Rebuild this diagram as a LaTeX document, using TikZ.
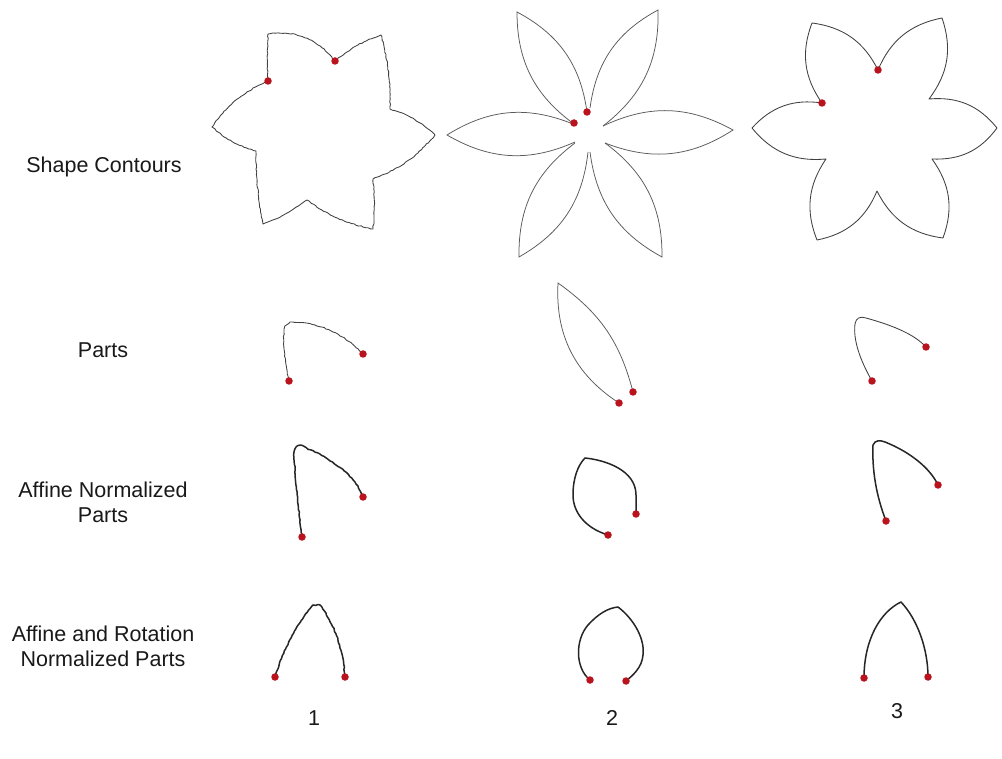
\documentclass[tikz,border=0pt]{standalone}
\usepackage{fontspec}
\setmainfont{Liberation Sans}
\usetikzlibrary{decorations.pathmorphing}
\definecolor{dotred}{RGB}{185,20,30}
\begin{document}
\begin{tikzpicture}[x=1pt,y=-1pt,
  lbl/.style={font=\fontsize{21.5}{25}\selectfont, align=center, inner sep=0pt, text=black!90},
  contour/.style={draw=black!75, line width=0.85pt, line join=round},
  petal/.style={draw=black!65, line width=0.75pt},
  jag/.style={decorate, decoration={random steps, segment length=2.5pt, amplitude=0.5pt}},
  part/.style={draw=black!85, line width=1.5pt, line join=round, line cap=round},
  dot/.style={circle, fill=dotred, inner sep=0pt, minimum size=7.5pt}]
\pgfmathsetseed{3}
\fill[white] (0,0) rectangle (1002,759);
\useasboundingbox (0,0) rectangle (1002,759);

% ---- row labels ----
\node[lbl, anchor=base] (lshape) at (104,173) {Shape Contours};
\node[lbl, anchor=base] (lparts) at (103,358) {Parts};
\node[lbl] (laff) at (103,502) {Affine Normalized\\Parts};
\node[lbl] (lrot) at (103,646) {Affine and Rotation\\Normalized Parts};

% ---- column numbers ----
\node[lbl] (n1) at (314,718) {1};
\node[lbl] (n2) at (612,718) {2};
\node[lbl] (n3) at (897,711) {3};

% ---- shape 1 (jagged star) ----
\path[contour, jag] (335,61) to[bend left=10] (381,35) to[bend left=8] (390,109)
  to[bend left=12] (435,135) to[bend left=14] (373,179) to[bend left=5] (373,229)
  to[bend left=12] (307,200) to[bend left=8] (263,224) to[bend left=5] (256,151)
  to[bend left=12] (212,127) to[bend left=15] (268,81) to[bend left=3] (268,34)
  to[bend left=30] (335,61);

% ---- shape 2 (six petals) ----
\path[petal] (587,112) to[bend right=27] (517,12) to[bend right=27] (574,124);
\path[petal] (603,126) to[bend right=27] (658,10) to[bend right=27] (590,108);
\path[petal] (605,143) to[bend right=27] (733,130) to[bend right=27] (603,126);
\path[petal] (590,152) to[bend right=27] (662,257) to[bend right=27] (605,143);
\path[petal] (575,143) to[bend right=27] (519,257) to[bend right=27] (588,152);
\path[petal] (573,124) to[bend right=27] (447,135) to[bend right=27] (575,142);

% ---- shape 3 (smooth star) ----
\path[contour] (878,70) to[bend left=28] (942,18) to[bend left=28] (929,99)
  to[bend left=28] (997,128) to[bend left=28] (932,159) to[bend left=28] (943,238)
  to[bend left=28] (877,191) to[bend left=28] (817,240) to[bend left=28] (826,159)
  to[bend left=28] (752,128) to[bend left=28] (822,103) to[bend left=28] (812,23)
  to[bend left=28] (878,70);

% ---- row 2: parts ----
\path[contour, jag] (289,381) .. controls (285,360) and (282,340) .. (285,326)
  -- (290,322) .. controls (320,322) and (345,335) .. (363,354);
\path[petal] (619,403) to[bend left=30] (558,283) to[bend left=20] (633,392);
\path[contour] (872,381) .. controls (860,360) and (853,340) .. (855,324)
  .. controls (856,318) and (860,316) .. (866,318)
  .. controls (895,326) and (915,335) .. (926,347);

% ---- row 3: affine normalized parts ----
\path[part, jag] (302,537) .. controls (298,505) and (295,480) .. (294,452)
  .. controls (295,446) and (300,444) .. (306,448)
  .. controls (330,458) and (355,475) .. (363,497);
\path[part] (608,535) .. controls (585,528) and (573,512) .. (573,495)
  .. controls (573,478) and (578,465) .. (585,458)
  .. controls (605,460) and (636,470) .. (636,495) -- (636,514);
\path[part] (886,521) .. controls (876,495) and (872,470) .. (873,445)
  .. controls (875,440) and (880,440) .. (885,442)
  .. controls (910,452) and (930,468) .. (938,485);

% ---- row 4: affine and rotation normalized parts ----
\path[part, jag] (275,677) .. controls (285,645) and (300,620) .. (313,605)
  -- (320,605) .. controls (335,625) and (343,650) .. (345,677);
\path[part] (590,680) .. controls (575,668) and (575,640) .. (588,625)
  .. controls (598,614) and (608,608) .. (618,607)
  .. controls (635,620) and (645,640) .. (643,655)
  .. controls (642,668) and (632,676) .. (626,681);
\path[part] (864,678) .. controls (864,640) and (880,612) .. (901,602)
  .. controls (918,620) and (928,650) .. (928,677);

% ---- red end points ----
\node[dot] (s1a) at (268,81) {};
\node[dot] (s1b) at (335,61) {};
\node[dot] (s2a) at (574,123) {};
\node[dot] (s2b) at (587,112) {};
\node[dot] (s3a) at (822,103) {};
\node[dot] (s3b) at (878,70) {};
\node[dot] (p1a) at (289,381) {};
\node[dot] (p1b) at (363,354) {};
\node[dot] (p2a) at (619,403) {};
\node[dot] (p2b) at (633,392) {};
\node[dot] (p3a) at (872,381) {};
\node[dot] (p3b) at (926,347) {};
\node[dot] (a1a) at (302,537) {};
\node[dot] (a1b) at (363,497) {};
\node[dot] (a2a) at (608,535) {};
\node[dot] (a2b) at (636,514) {};
\node[dot] (a3a) at (886,521) {};
\node[dot] (a3b) at (938,485) {};
\node[dot] (r1a) at (275,677) {};
\node[dot] (r1b) at (345,677) {};
\node[dot] (r2a) at (590,680) {};
\node[dot] (r2b) at (626,681) {};
\node[dot] (r3a) at (864,678) {};
\node[dot] (r3b) at (928,677) {};
\end{tikzpicture}
\end{document}
